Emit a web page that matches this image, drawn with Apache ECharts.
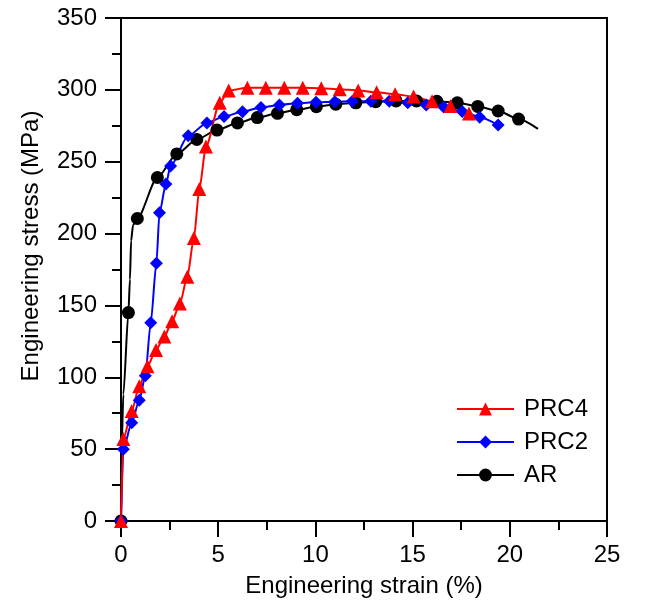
<!DOCTYPE html>
<html>
<head>
<meta charset="utf-8">
<script src="https://cdn.jsdelivr.net/npm/echarts@6/dist/echarts.min.js"></script>
<style>
html,body{margin:0;padding:0;background:#fff;}
#chart{width:651px;height:604px;}
</style>
</head>
<body>
<div id="chart"></div>
<script>
// ---- data (strain %, stress MPa, 1 = marker drawn) ----
const seriesNames = ['PRC4', 'PRC2', 'AR'];

const arStrain = [0, 0.03, 0.12, 0.38, 0.46, 0.52, 0.62, 0.84, 1.87, 2.87, 3.9, 4.94, 5.99, 7.01, 8.05, 9.04, 10.05, 11.05, 12.08, 13.1, 14.15, 15.2, 16.25, 17.3, 18.35, 19.4, 20.45, 21.45];
const arStress = [0, 50, 88, 145, 168, 195, 206, 210.5, 239, 255.4, 265.5, 272, 277, 280.7, 283.7, 286.2, 288.3, 290, 291, 291.8, 292.3, 292.3, 292, 291, 288.5, 285.3, 279.7, 272.8];
const arMark   = [1, 0, 0, 1, 0, 0, 0, 1, 1, 1, 1, 1, 1, 1, 1, 1, 1, 1, 1, 1, 1, 1, 1, 1, 1, 1, 1, 0];

const prc2Strain = [0, 0.12, 0.55, 0.94, 1.25, 1.53, 1.82, 1.98, 2.31, 2.55, 3.46, 4.42, 5.3, 6.25, 7.2, 8.15, 9.08, 10.03, 11.0, 11.9, 12.85, 13.8, 14.75, 15.7, 16.6, 17.55, 18.45, 19.4];
const prc2Stress = [0, 50, 68.4, 84, 101, 138, 179.3, 214.5, 234.5, 247, 268, 277, 281.5, 284.8, 287.8, 289.5, 290.7, 291.3, 291.8, 292, 292, 292, 291, 289.5, 288, 285, 281, 275.5];
const prc2Mark   = [1, 1, 1, 1, 1, 1, 1, 1, 1, 1, 1, 1, 1, 1, 1, 1, 1, 1, 1, 1, 1, 1, 1, 1, 1, 1, 1, 1];

const prc4Strain = [0, 0.12, 0.55, 0.94, 1.36, 1.8, 2.23, 2.63, 3.03, 3.41, 3.75, 4.03, 4.37, 5.08, 5.54, 6.5, 7.45, 8.4, 9.35, 10.3, 11.25, 12.2, 13.15, 14.1, 15.05, 16.0, 16.95, 17.9];
const prc4Stress = [0, 57, 76.5, 93.8, 107.7, 119, 128.3, 139, 151.3, 170, 197, 231, 260.5, 291, 299.5, 301.5, 301.5, 301.5, 301.5, 301.2, 300.5, 299.5, 298.3, 297, 295.3, 292, 288.8, 283.5];
const prc4Mark   = [1, 1, 1, 1, 1, 1, 1, 1, 1, 1, 1, 1, 1, 1, 1, 1, 1, 1, 1, 1, 1, 1, 1, 1, 1, 1, 1, 1];

const xTicks = [0, 5, 10, 15, 20, 25];
const yTicks = [0, 50, 100, 150, 200, 250, 300, 350];

const xTitle = 'Engineering strain (%)';
const yTitle = 'Engineering stress (MPa)';

// ---- build ----
const FONT = '"Liberation Sans", Arial, Helvetica, sans-serif';
function build(xs, ys, marks, sym) {
  return xs.map((x, i) => ({ value: [x, ys[i]], symbol: marks[i] ? sym : 'none' }));
}
const chart = echarts.init(document.getElementById('chart'), null, { renderer: 'canvas' });

const axisCommon = {
  axisLine: { show: true, onZero: false, lineStyle: { color: '#000', width: 2 } },
  axisTick: { show: true, inside: false, length: 16, lineStyle: { color: '#000', width: 2 } },
  minorTick: { show: true, splitNumber: 2, length: 9, lineStyle: { color: '#000', width: 2 } },
  splitLine: { show: false },
  minorSplitLine: { show: false },
};

chart.setOption({
  animation: false,
  backgroundColor: '#fff',
  grid: { left: 121, right: 44, top: 18, bottom: 83, containLabel: false, show: true, borderColor: '#000', borderWidth: 2 },
  legend: {
    data: seriesNames,
    orient: 'vertical',
    left: 456, top: 397,
    itemWidth: 57, itemHeight: 16, itemGap: 9,
    padding: 0,
    textStyle: { fontSize: 24, fontFamily: FONT, color: '#000', padding: [0, 0, 0, 5] },
  },
  xAxis: Object.assign({
    type: 'value', min: xTicks[0], max: xTicks[xTicks.length - 1], interval: 5,
    axisLabel: { margin: 22, fontSize: 24, fontFamily: FONT, color: '#000' },
    name: xTitle, nameLocation: 'middle', nameGap: 53,
    nameTextStyle: { fontSize: 24, fontFamily: FONT, color: '#000' },
  }, axisCommon),
  yAxis: Object.assign({
    type: 'value', min: yTicks[0], max: yTicks[yTicks.length - 1], interval: 50,
    axisLabel: { margin: 24, fontSize: 24, fontFamily: FONT, color: '#000' },
  }, axisCommon),
  graphic: [{
    type: 'text', x: 31, y: 246, rotation: Math.PI / 2,
    style: { text: yTitle, fontSize: 24, fontFamily: FONT, fill: '#000', align: 'center', verticalAlign: 'middle' }
  }],
  series: [
    { name: 'AR', type: 'line', data: build(arStrain, arStress, arMark, 'circle'), symbol: 'circle', symbolSize: 13,
      smooth: 0.25, smoothMonotone: 'x', lineStyle: { color: '#000', width: 2 }, itemStyle: { color: '#000' }, showAllSymbol: true },
    { name: 'PRC2', type: 'line', data: build(prc2Strain, prc2Stress, prc2Mark, 'diamond'), symbol: 'diamond', symbolSize: 13,
      smooth: 0.25, smoothMonotone: 'x', lineStyle: { color: '#0000ff', width: 2 }, itemStyle: { color: '#0000ff' }, showAllSymbol: true },
    { name: 'PRC4', type: 'line', data: build(prc4Strain, prc4Stress, prc4Mark, 'triangle'), symbol: 'triangle', symbolSize: 14,
      smooth: 0.25, smoothMonotone: 'x', lineStyle: { color: '#ff0000', width: 2 }, itemStyle: { color: '#ff0000' }, showAllSymbol: true },
  ]
});
</script>
</body>
</html>
